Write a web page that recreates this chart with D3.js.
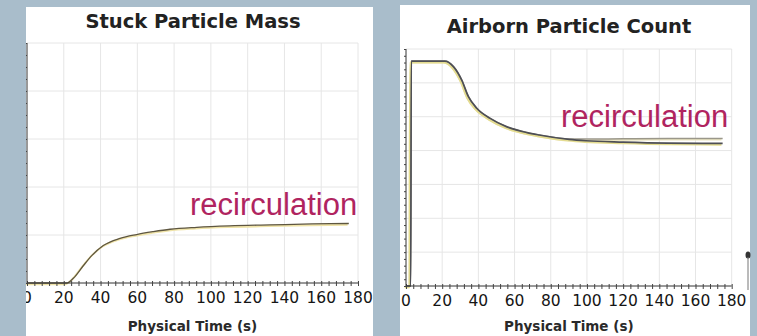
<!DOCTYPE html>
<html>
    <head>
        <meta charset="utf-8">
        <title>Particle charts</title>
        <style>
            body { margin: 0; background: #a9bdcb; }
            svg { display: block; }
            .grid line { stroke: #e6e6e6; stroke-width: 1px; }
            .title { font-family: "DejaVu Sans", sans-serif; font-weight: bold; font-size: 19.5px; fill: #222; }
            .tick-label { font-family: "DejaVu Sans", sans-serif; font-size: 15.5px; fill: #151515; }
            .axis-title { font-family: "DejaVu Sans", sans-serif; font-weight: bold; font-size: 13.5px; fill: #2a2a2a; }
            .note { font-family: "Liberation Sans", Arial, sans-serif; font-size: 31px; fill: #b0245f; }
        </style>
    </head>
    <body>
        <script src="https://cdn.jsdelivr.net/npm/d3@7"></script>
        <script>

            var width = 757;
            var height = 336;

            // x ticks, shared by both charts (seconds)
            var timeTicks = [0, 20, 40, 60, 80, 100, 120, 140, 160, 180];

            // Stuck Particle Mass (no units on the picture, read as grid units)
            var massTime  = [0, 20, 21.6, 25.2, 30.6, 35.2, 41.5, 50.6, 59.6, 68.7, 77.8, 92.3, 110, 132, 155, 175];
            var massValue = [0, 0, 0, 0.1, 0.36, 0.57, 0.78, 0.93, 1.01, 1.07, 1.12, 1.16, 1.19, 1.21, 1.23, 1.24];

            // Airborn Particle Count, two runs
            var countTime = [0, 2.6, 2.9, 21.5, 26.2, 30.8, 34.5, 39.1, 46.5, 55.8, 66.9, 73.6, 90.2, 99.5, 120, 145, 175];
            var countBase = [0, 0, 6.64, 6.64, 6.48, 6.08, 5.59, 5.25, 4.95, 4.70, 4.53, 4.46, 4.33, 4.29, 4.25, 4.22, 4.21];
            var countRecirc = [0, 0, 6.64, 6.64, 6.48, 6.08, 5.59, 5.25, 4.95, 4.70, 4.53, 4.46, 4.34, 4.34, 4.35, 4.36, 4.36];

            var svg = d3.select("body").append("svg")
                    .attr("width", width)
                    .attr("height", height);

            var panels = [
                {
                    id: "mass", box: [26, 7, 347, 340],
                    x: [27, 358], y: [283, 43], yMax: 5, yMinor: 4,
                    title: "Stuck Particle Mass", titleX: 193, titleY: 28,
                    note: [190, 215],
                    series: [{ t: massTime, v: massValue, color: "#5e5640", glow: "#efe3a8", w: 1.3 }]
                },
                {
                    id: "count", box: [400, 5, 350, 340],
                    x: [406, 731.7], y: [286, 49], yMax: 7, yMinor: 5,
                    title: "Airborn Particle Count", titleX: 569, titleY: 33,
                    note: [561, 127],
                    series: [
                        { t: countTime, v: countRecirc, color: "#9a978a", glow: "#eee8c4", w: 1.5 },
                        { t: countTime, v: countBase, color: "#4e4f55", glow: "#e4dc90", w: 1.7 }
                    ]
                }
            ];

            panels.forEach(function (p)
            {
                var b = p.box;
                svg.append("clipPath").attr("id", "clip-" + p.id)
                        .append("rect").attr("x", b[0]).attr("y", b[1]).attr("width", b[2]).attr("height", b[3]);

                var g = svg.append("g").attr("clip-path", "url(#clip-" + p.id + ")");
                g.append("rect").attr("x", b[0]).attr("y", b[1]).attr("width", b[2]).attr("height", b[3])
                        .attr("fill", "#fff");

                var x = d3.scaleLinear().domain([0, 180]).range(p.x);
                var y = d3.scaleLinear().domain([0, p.yMax]).range(p.y);

                // grid
                var grid = g.append("g").attr("class", "grid");
                grid.selectAll(".gx").data(timeTicks.slice(1)).join("line")
                        .attr("x1", d => x(d)).attr("x2", d => x(d))
                        .attr("y1", y(0)).attr("y2", y(p.yMax));
                grid.selectAll(".gy").data(d3.range(1, p.yMax + 1)).join("line")
                        .attr("class", "gy")
                        .attr("x1", x(0)).attr("x2", x(180))
                        .attr("y1", d => y(d)).attr("y2", d => y(d));

                // curves: a faint yellow line under a dark one
                p.series.forEach(function (s)
                {
                    var pts = s.t.map((t, i) => [t, s.v[i]]);
                    var line = d3.line().x(d => x(d[0])).y(d => y(d[1])).curve(d3.curveMonotoneX);
                    g.append("path").datum(pts).attr("d", line)
                            .attr("fill", "none").attr("stroke", s.glow).attr("stroke-width", 2)
                            .attr("transform", "translate(-1.2,1.2)");
                    g.append("path").datum(pts).attr("d", line)
                            .attr("fill", "none").attr("stroke", s.color).attr("stroke-width", s.w);
                });

                // x axis with minor ticks
                var xAxis = g.append("g").attr("transform", "translate(0," + y(0) + ")");
                xAxis.call(d3.axisBottom(x).tickValues(d3.range(0, 181, 4)).tickSize(3).tickFormat(""))
                        .call(a => a.select(".domain").attr("stroke", "#333").attr("d", "M" + x(0) + ",0H" + x(180)))
                        .call(a => a.selectAll(".tick line").attr("stroke", "#444").attr("y1", -2));
                xAxis.selectAll(".lbl").data(timeTicks).join("text")
                        .attr("class", "tick-label")
                        .attr("x", d => x(d)).attr("y", 20)
                        .attr("text-anchor", "middle")
                        .text(d => d);

                // y axis, no labels
                g.append("g").attr("transform", "translate(" + x(0) + ",0)")
                        .call(d3.axisLeft(y).tickValues(d3.range(0, p.yMax + 0.001, 1 / p.yMinor)).tickSize(2).tickFormat(""))
                        .call(a => a.select(".domain").attr("stroke", "#333").attr("d", "M0," + y(0) + "V" + y(p.yMax)))
                        .call(a => a.selectAll(".tick line").attr("stroke", "#444"));

                g.append("text").attr("class", "title")
                        .attr("x", p.titleX).attr("y", p.titleY)
                        .attr("text-anchor", "middle").text(p.title);

                g.append("text").attr("class", "axis-title")
                        .attr("x", (p.x[0] + p.x[1]) / 2).attr("y", 331)
                        .attr("text-anchor", "middle").text("Physical Time (s)");

                g.append("text").attr("class", "note")
                        .attr("x", p.note[0]).attr("y", p.note[1]).text("recirculation");
            });

            // little dark cursor mark at the right edge of the second chart
            svg.append("ellipse").attr("cx", 748).attr("cy", 255).attr("rx", 2.5).attr("ry", 3.5).attr("fill", "#333");
            svg.append("line").attr("x1", 748).attr("x2", 748).attr("y1", 257).attr("y2", 290)
                    .attr("stroke", "#777").attr("stroke-width", 1);

        </script>
    </body>
</html>
